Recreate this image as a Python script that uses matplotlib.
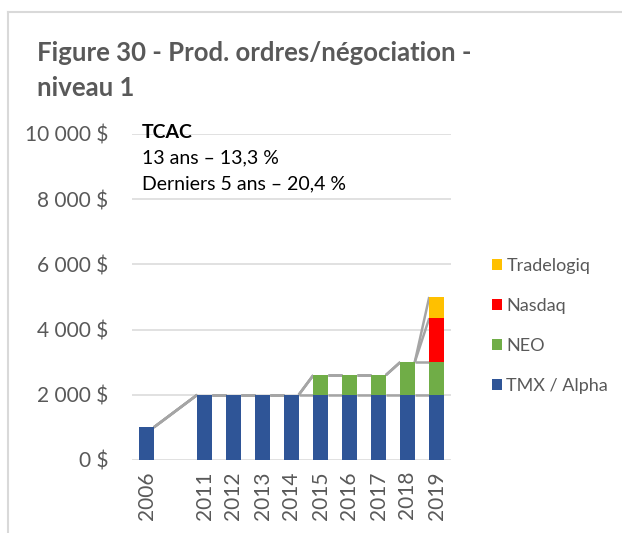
import matplotlib.pyplot as plt
from matplotlib.lines import Line2D
import numpy as np

plt.rcParams['font.family'] = ['Lato', 'DejaVu Sans']

years = ['2006', '2011', '2012', '2013', '2014', '2015', '2016', '2017', '2018', '2019']
tmx = [1000, 2000, 2000, 2000, 2000, 2000, 2000, 2000, 2000, 2000]
neo = [0, 0, 0, 0, 0, 600, 600, 600, 1000, 1000]
nasdaq = [0, 0, 0, 0, 0, 0, 0, 0, 0, 1350]
tradelogiq = [0, 0, 0, 0, 0, 0, 0, 0, 0, 650]

series = [('TMX / Alpha', tmx, '#2f5597'),
          ('NEO', neo, '#70ad47'),
          ('Nasdaq', nasdaq, '#ff0000'),
          ('Tradelogiq', tradelogiq, '#ffc000')]

W, H = 622, 533
fig = plt.figure(figsize=(W / 100, H / 100), dpi=100)
ax = fig.add_axes([132 / W, 1 - 460 / H, 319 / W, 326 / H])

# one empty slot between 2006 and 2011
pos = np.array([i + (1 if i > 0 else 0) for i in range(len(years))])
width = 0.5
grey_txt = '#595959'

bottom = np.zeros(len(years))
handles = []
for name, vals, col in series:
    vals = np.array(vals, dtype=float)
    b = ax.bar(pos, vals, width, bottom=bottom, color=col, zorder=3, label=name)
    handles.append(b)
    top = bottom + vals
    # series lines between neighbouring bars
    for i in range(len(pos) - 1):
        ax.plot([pos[i] + width / 2, pos[i + 1] - width / 2], [top[i], top[i + 1]],
                color='#a5a5a5', lw=1.8, zorder=2, solid_capstyle='butt')
    bottom = top

ax.set_xlim(-0.5, 10.5)
ax.set_ylim(0, 10000)
ax.set_yticks(np.arange(0, 10001, 2000))
ax.set_yticklabels([f'{v:,}'.replace(',', ' ') + ' $' for v in range(0, 10001, 2000)])
ax.set_xticks(pos)
ax.set_xticklabels(years, rotation=90)
ax.tick_params(axis='y', length=0, pad=17, labelsize=15, labelcolor=grey_txt)
ax.tick_params(axis='x', length=0, pad=8, labelsize=15, labelcolor=grey_txt)
ax.grid(axis='y', color='#d9d9d9', lw=1.1, zorder=0)
for s in ax.spines.values():
    s.set_visible(False)

leg = ax.legend(handles=handles[::-1], loc='upper left', bbox_to_anchor=(1.128, 0.62),
                frameon=False, fontsize=13, handlelength=0.55, handleheight=0.55,
                handletextpad=0.25, labelspacing=1.33, borderaxespad=0, borderpad=0)
for t in leg.get_texts():
    t.set_color(grey_txt)

fig.text(37 / W, 1 - 53 / H, 'Figure 30 - Prod. ordres/négociation -', fontsize=18.5,
         fontweight='bold', color=grey_txt, va='center', ha='left')
fig.text(37 / W, 1 - 88 / H, 'niveau 1', fontsize=18.5,
         fontweight='bold', color=grey_txt, va='center', ha='left')

fig.text(142 / W, 1 - 133 / H, 'TCAC', fontsize=14, fontweight='bold', color='black', va='center')
fig.text(142 / W, 1 - 158 / H, '13 ans – 13,3 %', fontsize=14, color='black', va='center')
fig.text(142 / W, 1 - 184 / H, 'Derniers 5 ans – 20,4 %', fontsize=14, color='black', va='center')

# chart border
fig.add_artist(Line2D([8 / W, 1], [1 - 12 / H, 1 - 12 / H], color='#d9d9d9', lw=1.5))
fig.add_artist(Line2D([8 / W, 8 / W], [0, 1 - 12 / H], color='#d9d9d9', lw=1.5))

fig.savefig('out.png', dpi=100)
